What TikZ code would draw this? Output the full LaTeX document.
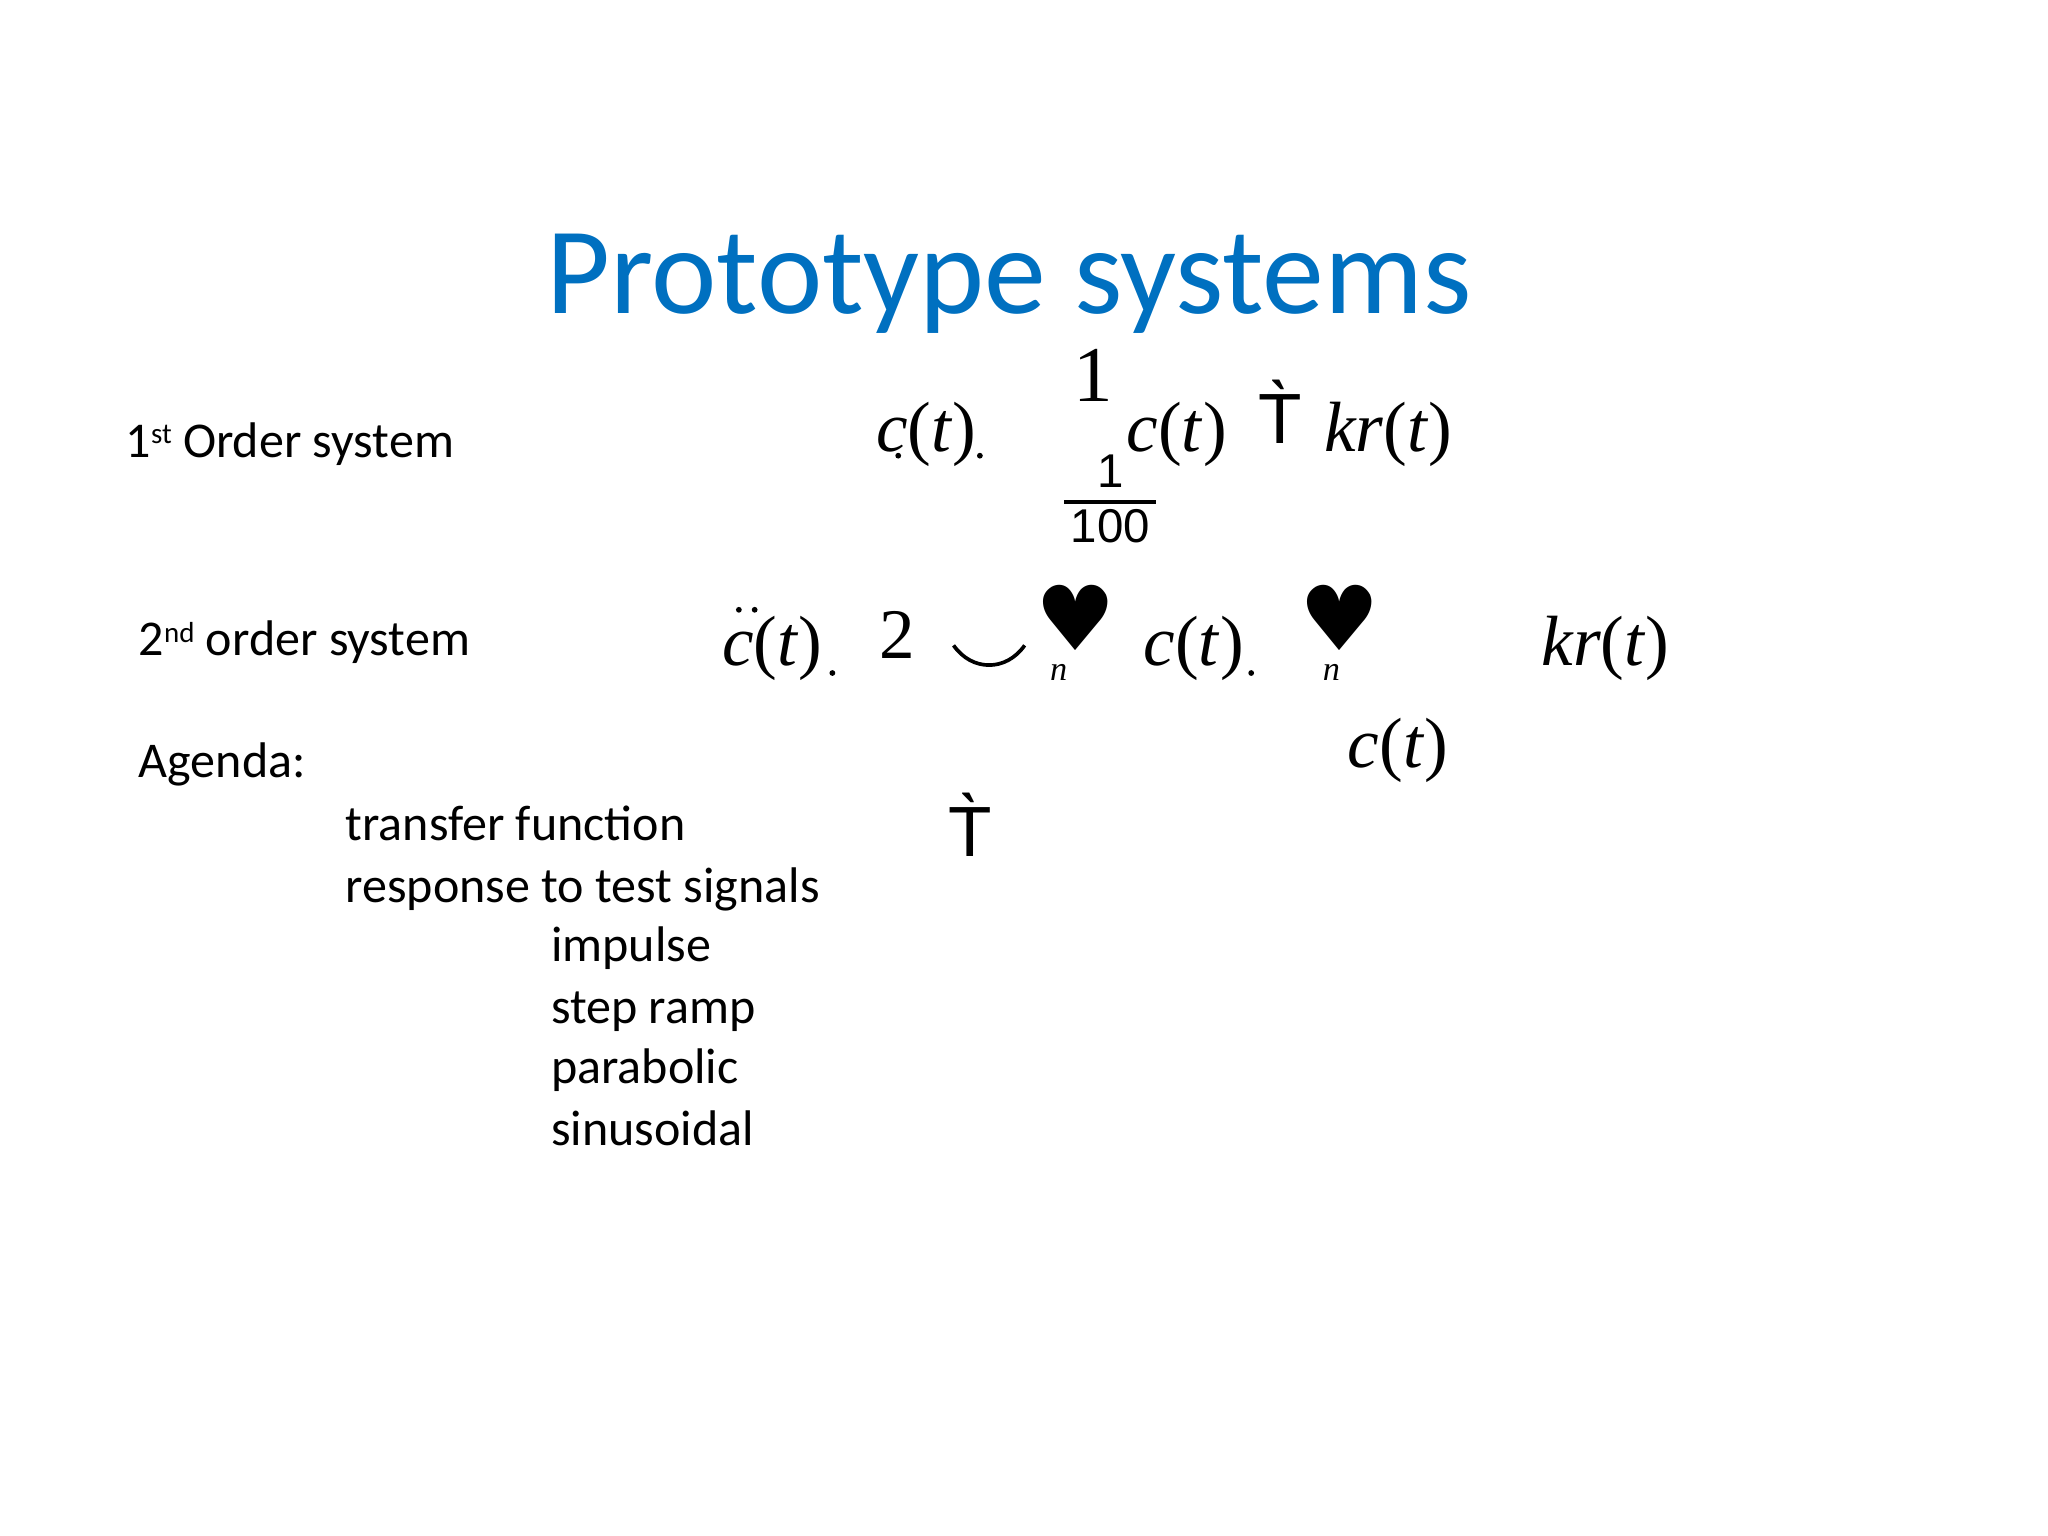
\documentclass[tikz,border=0pt]{standalone}
\usepackage{fontspec}
\setmainfont{Carlito}
\newfontfamily\mser{Liberation Serif}
\newfontfamily\djsans{DejaVu Sans}
\newfontfamily\lsans{Liberation Sans}
\definecolor{titleblue}{RGB}{0,112,192}
\newcommand{\supsm}[1]{\raisebox{0.55ex}{\fontsize{11}{12}\selectfont #1}}
\begin{document}
\begin{tikzpicture}[x=0.5pt,y=-0.5pt,
  txt/.style={anchor=base west,inner sep=0pt,font=\fontsize{19}{22}\selectfont},
  mth/.style={anchor=base west,inner sep=0pt,font=\mser\fontsize{27}{30}\selectfont},
  sym/.style={anchor=base west,inner sep=0pt,font=\lsans\fontsize{27}{30}\selectfont},
  sub/.style={anchor=base west,inner sep=0pt,font=\mser\itshape\fontsize{13}{15}\selectfont}]
\useasboundingbox (0,0) rectangle (1555,1166);
\node[anchor=base,inner sep=0pt,font=\fontsize{47}{54}\selectfont,text=titleblue] (title) at (766,238) {Prototype systems};
\node[txt] (o1) at (95,347) {1\supsm{st} Order system};
\node[mth] (a1) at (665,343) {\textit{c}(\textit{t})};
\fill (682,346) circle (2.2) (744,346) circle (2.2);
\node[mth,font=\mser\fontsize{30}{34}\selectfont] (one) at (815,305) {1};
\node[mth] (a2) at (855,343) {\textit{c}(\textit{t})};
\node[sym] (t1) at (955,337) {T̀};
\node[mth] (a3) at (1005,343) {\textit{kr}(\textit{t})};
\node[anchor=base,inner sep=0pt,font=\lsans\fontsize{18}{20}\selectfont] (n1) at (843,370) {1};
\draw[line width=1.5pt] (808,381) -- (878,381);
\node[anchor=base,inner sep=0pt,font=\lsans\fontsize{18}{20}\selectfont] (d1) at (843,412) {100};
\node[txt] (o2) at (105,498) {2\supsm{nd} order system};
\node[mth] (b1) at (548,505) {\textit{c}(\textit{t})};
\fill (561,463) circle (2.2) (573,463) circle (2.2) (632,511) circle (2.2);
\node[mth] (b2) at (667,500) {2};
\coordinate (smL) at (724,490);
\coordinate (smR) at (778,490);
\draw[line width=1.4pt] (smL) .. controls (738,510) and (764,510) .. (smR);
\node[anchor=base,inner sep=0pt,font=\djsans\fontsize{34}{34}\selectfont] (h1) at (817,494) {♥};
\node[sub] (s1) at (797,517) {n};
\node[mth] (b3) at (868,505) {\textit{c}(\textit{t})};
\fill (950,511) circle (2.2);
\node[anchor=base,inner sep=0pt,font=\djsans\fontsize{34}{34}\selectfont] (h2) at (1017,494) {♥};
\node[sub] (s2) at (1004,517) {n};
\node[mth] (b4) at (1170,505) {\textit{kr}(\textit{t})};
\node[mth] (c3) at (1023,583) {\textit{c}(\textit{t})};
\node[txt] (ag) at (105,590) {Agenda:};
\node[sym] (t2) at (720,650) {T̀};
\node[txt] (l1) at (262,638) {transfer function};
\node[txt] (l2) at (262,685) {response to test signals};
\node[txt] (l3) at (418,730) {impulse};
\node[txt] (l4) at (418,777) {step ramp};
\node[txt] (l5) at (418,823) {parabolic};
\node[txt] (l6) at (418,870) {sinusoidal};
\end{tikzpicture}
\end{document}
